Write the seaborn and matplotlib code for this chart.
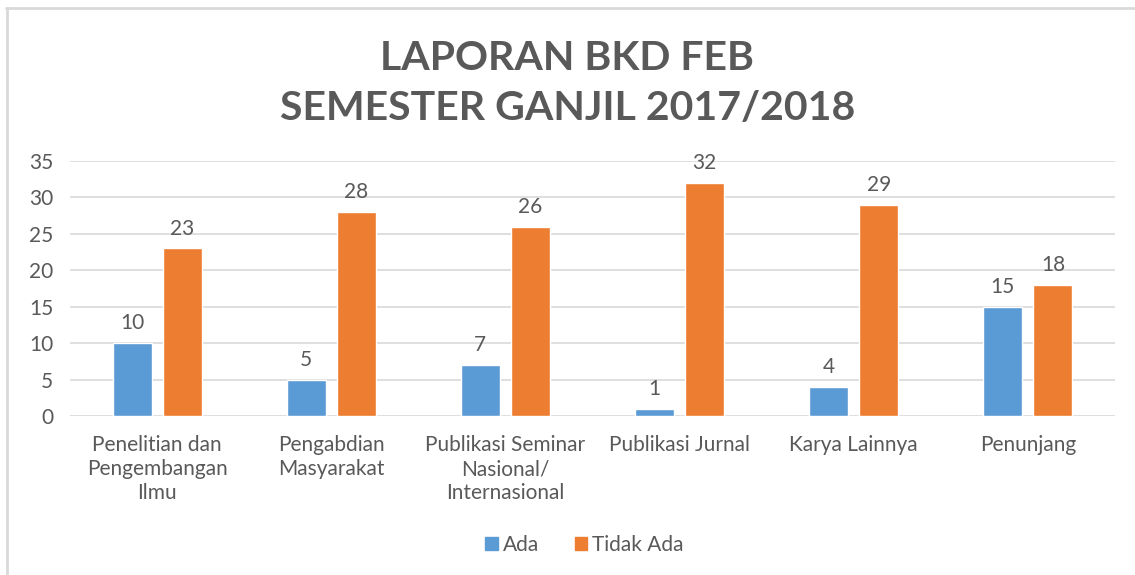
import numpy as np
import pandas as pd
import matplotlib.pyplot as plt
from matplotlib.lines import Line2D
from matplotlib.patches import Patch
import seaborn as sns

# Data
kategori = ['Penelitian dan\nPengembangan\nIlmu', 'Pengabdian\nMasyarakat',
            'Publikasi Seminar\nNasional/\nInternasional', 'Publikasi Jurnal',
            'Karya Lainnya', 'Penunjang']
ada = [10, 5, 7, 1, 4, 15]
tidak_ada = [23, 28, 26, 32, 29, 18]
seri = ['Ada', 'Tidak Ada']
warna = ['#5B9BD5', '#ED7D31']
teks = '#595959'

df = pd.DataFrame({'kategori': kategori * 2,
                   'status': [seri[0]] * len(ada) + [seri[1]] * len(tidak_ada),
                   'nilai': ada + tidak_ada})

sns.set_style('white')
plt.rcParams['font.family'] = ['Lato', 'DejaVu Sans']

fig = plt.figure(figsize=(11.35, 5.75), dpi=100)
ax = fig.add_axes([70 / 1135, 1 - 416 / 575, 1045 / 1135, 255 / 575])

sns.barplot(data=df, x='kategori', y='nilai', hue='status', palette=warna,
            width=0.575, gap=0.22, ax=ax, legend=False, saturation=1)

for cont in ax.containers:
    ax.bar_label(cont, padding=7, fontsize=15, color=teks)

ax.set_ylim(0, 35)
ax.set_xlim(-0.5, len(kategori) - 0.5)
ax.set_yticks(range(0, 36, 5))
ax.yaxis.grid(True, color='#D9D9D9', linewidth=1.2)
ax.set_axisbelow(True)
for s in ax.spines.values():
    s.set_visible(False)
ax.set_xlabel('')
ax.set_ylabel('')
ax.tick_params(axis='both', length=0, labelsize=15, labelcolor=teks)
ax.tick_params(axis='y', pad=12)
ax.tick_params(axis='x', pad=14)
for lbl in ax.get_xticklabels():
    lbl.set_verticalalignment('top')
    lbl.set_linespacing(1.25)

fig.text(0.5, 1 - 58 / 575, 'LAPORAN BKD FEB', ha='center', va='center',
         fontsize=29.5, fontweight='bold', color=teks)
fig.text(0.5, 1 - 108 / 575, 'SEMESTER GANJIL 2017/2018', ha='center', va='center',
         fontsize=29.5, fontweight='bold', color=teks)

handles = [Patch(color=c, label=l) for c, l in zip(warna, seri)]
fig.legend(handles=handles, loc='center', bbox_to_anchor=(0.515, 1 - 545 / 575),
           ncol=2, frameon=False, fontsize=15, handlelength=0.6, handleheight=0.6,
           handletextpad=0.25, columnspacing=1.7, labelcolor=teks)

# outer frame
fig.add_artist(Line2D([6 / 1135, 1], [1 - 8 / 575, 1 - 8 / 575], color='#D9D9D9', lw=2))
fig.add_artist(Line2D([7 / 1135, 7 / 1135], [0, 1 - 8 / 575], color='#D9D9D9', lw=2))

fig.savefig('out.png', dpi=100)
